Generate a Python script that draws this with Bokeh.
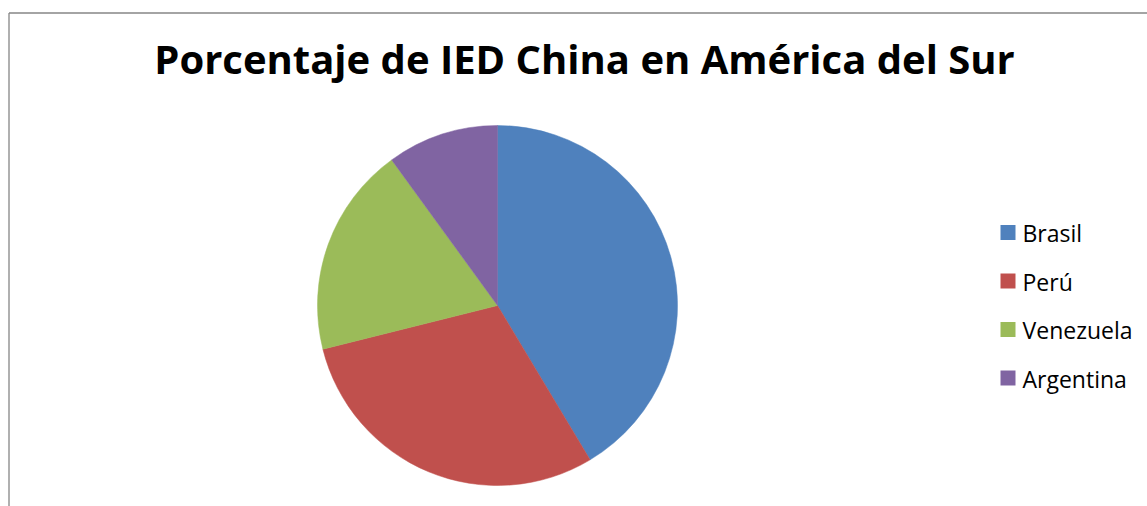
import math
from bokeh.plotting import figure
from bokeh.models import Range1d
from bokeh.core.properties import value
from bokeh.embed import file_html
from bokeh.resources import INLINE

title = "Porcentaje de IED China en América del Sur"
paises = ["Brasil", "Perú", "Venezuela", "Argentina"]
porcentajes = [41.4, 29.7, 18.9, 10.0]
colores = ["#4F81BD", "#C0504D", "#9BBB59", "#8064A2"]

W, H = 1147, 506
p = figure(width=W, height=H, output_backend="svg", toolbar_location=None,
           x_range=Range1d(0, W), y_range=Range1d(0, H), min_border=0)
p.axis.visible = False
p.grid.visible = False
p.outline_line_color = None
p.background_fill_color = "white"
p.border_fill_color = "white"

# chart border (gray)
p.segment(x0=[8.5, 8.5], y0=[H - 12.5, H - 12.5], x1=[W, 8.5], y1=[H - 12.5, 0],
          line_color="#868686", line_width=1.3)

# pie
cx, cy, r = 497, H - 305, 180
total = sum(porcentajes)
starts, ends = [], []
acc = 0.0
for v in porcentajes:
    a0 = math.pi / 2 - acc / total * 2 * math.pi
    acc += v
    a1 = math.pi / 2 - acc / total * 2 * math.pi
    starts.append(a0)
    ends.append(a1)
p.wedge(x=[cx] * len(paises), y=[cy] * len(paises), radius=r,
        start_angle=starts, end_angle=ends, direction="clock",
        fill_color=colores, line_color=colores, line_width=0.5)

# title
p.text(x=[584], y=[H - 58], text=[title], text_font=value("Open Sans"),
       text_font_size="40px", text_font_style="bold", text_align="center",
       text_baseline="alphabetic", text_color="black")

# legend
step = 48.5
ys = [H - 232 - i * step for i in range(len(paises))]
p.rect(x=[1007.5] * len(paises), y=ys, width=15, height=15,
       fill_color=colores, line_color=None)
p.text(x=[1022] * len(paises), y=[y - 0.5 for y in ys], text=paises,
       text_font=value("Open Sans"), text_font_size="23px",
       text_baseline="middle", text_color="black")

open("out.html", "w").write(file_html(p, INLINE))
